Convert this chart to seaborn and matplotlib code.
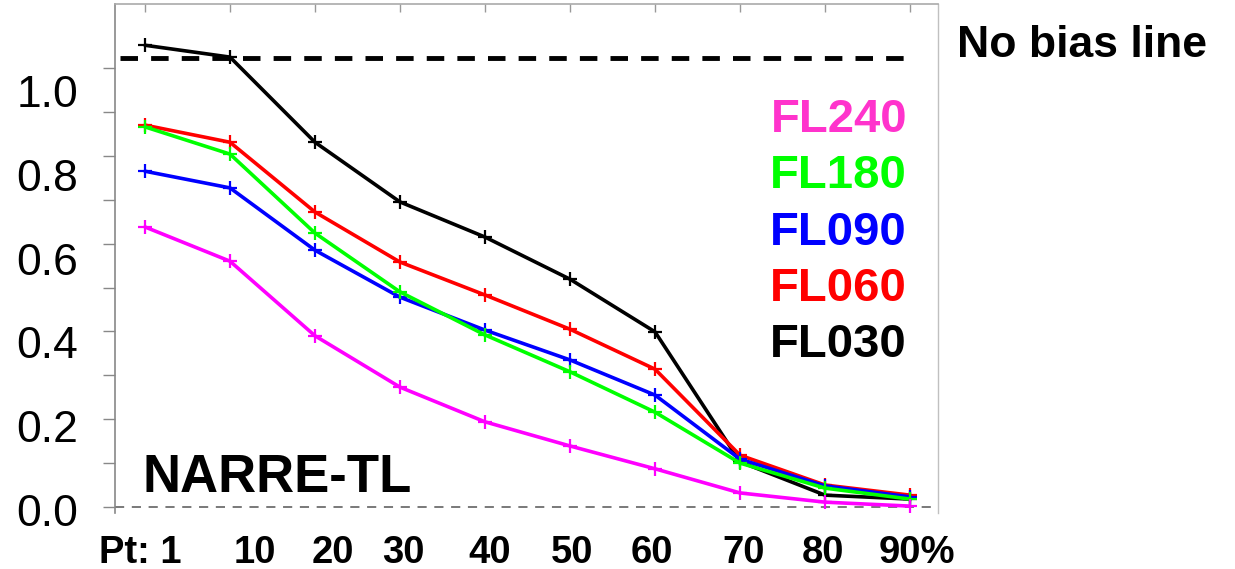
import numpy as np
import pandas as pd
import matplotlib
matplotlib.use("Agg")
import matplotlib.pyplot as plt
import seaborn as sns

# ---------------- data ----------------
x_labels = ["Pt: 1", "10", "20", "30", "40", "50", "60", "70", "80", "90%"]
x_pos = list(range(len(x_labels)))
x_label_pos = [-0.05, 1.29, 2.21, 3.04, 4.05, 5.02, 5.96, 7.04, 7.98, 9.08]

fl030 = [1.052, 1.025, 0.831, 0.695, 0.615, 0.519, 0.399, 0.103, 0.027, 0.018]
fl060 = [0.870, 0.831, 0.672, 0.558, 0.483, 0.405, 0.314, 0.118, 0.050, 0.027]
fl090 = [0.765, 0.727, 0.585, 0.478, 0.403, 0.335, 0.255, 0.109, 0.048, 0.023]
fl180 = [0.866, 0.804, 0.624, 0.490, 0.392, 0.308, 0.216, 0.100, 0.043, 0.018]
fl240 = [0.638, 0.560, 0.390, 0.273, 0.194, 0.139, 0.087, 0.032, 0.011, 0.002]
no_bias = 1.024

series_names = ["FL030", "FL060", "FL090", "FL180", "FL240"]
series_vals = [fl030, fl060, fl090, fl180, fl240]
line_colors = ["#000000", "#FF0000", "#0000FF", "#00FF00", "#FF00FF"]
legend_names = ["FL240", "FL180", "FL090", "FL060", "FL030"]
legend_colors = ["#FF33CC", "#00FF00", "#0000FF", "#FF0000", "#000000"]

y_labels = ["0.0", "0.2", "0.4", "0.6", "0.8", "1.0"]
y_label_vals = [0.0, 0.2, 0.4, 0.6, 0.8, 1.0]

# ---------------- style ----------------
sns.set_theme(style="white")
plt.rcParams['font.family'] = ['Liberation Sans', 'DejaVu Sans']
plt.rcParams['text.color'] = 'black'
plt.rcParams['xtick.labelcolor'] = 'black'
plt.rcParams['ytick.labelcolor'] = 'black'

W, H = 1235, 569
fig = plt.figure(figsize=(W / 100, H / 100), dpi=100)
ax = fig.add_axes([115 / W, 1 - 513 / H, (938 - 115) / W, (513 - 4) / H])

df = pd.DataFrame({
    "pos": np.tile(x_pos, len(series_names)),
    "val": np.concatenate(series_vals),
    "series": np.repeat(series_names, len(x_pos)),
})

for name, col in zip(series_names, line_colors):
    sub = df[df["series"] == name]
    sns.lineplot(data=sub, x="pos", y="val", color=col, marker="+",
                 markersize=10, markeredgewidth=1.6, markeredgecolor=col,
                 linewidth=2.6, ax=ax, legend=False, sort=False,
                 estimator=None)

# reference lines
ax.axhline(0, color="#555555", lw=1.1, ls=(0, (6, 5)), zorder=1)
ax.hlines(no_bias, -0.3, 9.0, color="black", lw=3.5,
          linestyles=[(0, (3.6, 2.7))], zorder=3)

ax.set_xlim(-0.353, 9.329)
ax.set_ylim(-0.0137, 1.146)
ax.set_xlabel("")
ax.set_ylabel("")

# spines
ax.spines["bottom"].set_visible(False)
ax.spines["left"].set_color("#888888")
ax.spines["left"].set_linewidth(1.2)
ax.spines["top"].set_color("#aaaaaa")
ax.spines["top"].set_linewidth(1.2)
ax.spines["right"].set_color("#c0c0c0")
ax.spines["right"].set_linewidth(1.0)

# top ticks at the data positions
ax.xaxis.set_ticks_position("top")
ax.set_xticks(x_pos)
ax.tick_params(axis="x", which="both", direction="in", length=6, width=1,
               color="#999999", top=True, bottom=False,
               labeltop=False, labelbottom=False)

# small inner y ticks
ax.set_yticks(np.round(np.arange(0, 1.01, 0.1), 2))
ax.tick_params(axis="y", which="both", direction="out", length=9, width=1,
               color="#888888", left=True, labelleft=False)

# bottom category labels
sec_x = ax.secondary_xaxis("bottom")
sec_x.set_xticks(x_label_pos, labels=x_labels)
sec_x.tick_params(length=0, pad=15.5, labelsize=27.5, labelcolor="black")
for t in sec_x.get_xticklabels():
    t.set_fontweight("bold")
    t.set_color("black")
sec_x.spines["bottom"].set_visible(False)

# big left labels (slightly different scale than the inner ticks)
def fwd(v):
    return (3 + 439 * v) / 419

def inv(v):
    return (419 * v - 3) / 439

sec_y = ax.secondary_yaxis("left", functions=(fwd, inv))
sec_y.set_yticks(y_label_vals, labels=y_labels)
sec_y.tick_params(length=0, pad=26.5, labelsize=32, labelcolor="black")
for t in sec_y.get_yticklabels():
    t.set_color("black")
sec_y.spines["left"].set_visible(False)

# texts
fig.text(143 / W, 1 - 492 / H, "NARRE-TL", fontsize=38, fontweight="bold",
         ha="left", va="baseline", color="black")
fig.text(957 / W, 1 - 57 / H, "No bias line", fontsize=32, fontweight="bold",
         ha="left", va="baseline", color="black")
baselines = [132, 188, 245, 301, 357]
for name, col, b in zip(legend_names, legend_colors, baselines):
    fig.text(907 / W, 1 - b / H, name, fontsize=34, fontweight="bold",
             ha="right", va="baseline", color=col)

fig.savefig("out.png", dpi=100)
